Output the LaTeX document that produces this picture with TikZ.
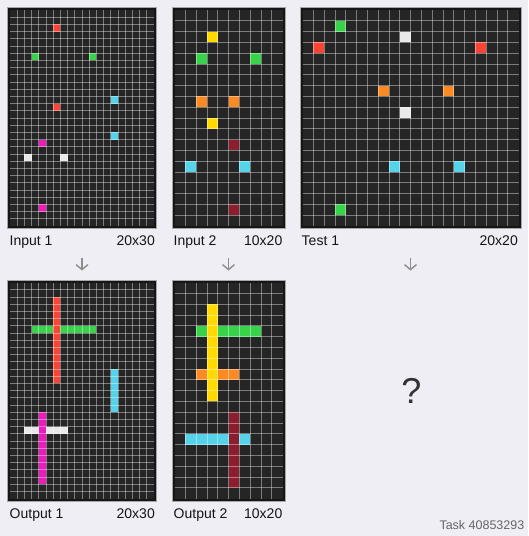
\documentclass[tikz,border=0pt]{standalone}
\usepackage{fontspec}
\setmainfont{Liberation Sans}
\usetikzlibrary{arrows.meta}
\definecolor{pagebg}{HTML}{EEEEF4}
\definecolor{cellbg}{HTML}{252525}
\definecolor{framec}{HTML}{161616}
\definecolor{cred}{HTML}{FA4536}
\definecolor{cgreen}{HTML}{38D34B}
\definecolor{ccyan}{HTML}{55D3EA}
\definecolor{cmag}{HTML}{EC1BBC}
\definecolor{cwhite}{HTML}{E8E8E8}
\definecolor{corange}{HTML}{FC8A22}
\definecolor{cyellow}{HTML}{FFD900}
\definecolor{cmaroon}{HTML}{8C1D2D}
\definecolor{arrowc}{HTML}{8E8E8E}
\definecolor{textc}{HTML}{151515}
\definecolor{taskc}{HTML}{666666}
\tikzset{
  gridat/.style n args={3}{shift={(#1pt,-#2pt)}, x=#3pt, y=-#3pt},
  gridline/.style={white, opacity=0.4, line width=0.8pt},
  framebox/.style={draw=framec, line width=2.7pt},
  frameedge/.style={draw=gray!70, line width=0.5pt},
  lbl/.style={font=\fontsize{14}{16}\selectfont, text=textc, inner sep=0pt},
  downarrow/.style={draw=arrowc, line width=1.4pt, -{Straight Barb[length=5pt,width=12pt]}},
}
\newcommand{\cellat}[3]{\fill[#3] (#1,#2) rectangle ++(1,1);}
\newcommand{\gridlines}[2]{%
  \foreach \i in {1,...,\numexpr#1-1\relax} \draw[gridline] (\i,0) -- (\i,#2);
  \foreach \j in {1,...,\numexpr#2-1\relax} \draw[gridline] (0,\j) -- (#1,\j);
}
\newcommand{\panelframe}[4]{% x0 y0 x1 y1 (inner, px)
  \draw[framebox] (#1-1.35,#2-1.35) rectangle (#3+1.35,#4+1.35);
  \draw[frameedge] (#1-2.7,#2-2.7) rectangle (#3+2.7,#4+2.7);
}
\begin{document}
\begin{tikzpicture}[x=1pt,y=-1pt]
\fill[pagebg] (0,0) rectangle (528,536);
\useasboundingbox (0,0) rectangle (528,536);

% ---------- Input 1 ----------
\begin{scope}[gridat={10}{10}{7.2}]
  \fill[cellbg] (0,0) rectangle (20,30);
  \cellat{6}{2}{cred}
  \cellat{3}{6}{cgreen}
  \cellat{11}{6}{cgreen}
  \cellat{14}{12}{ccyan}
  \cellat{6}{13}{cred}
  \cellat{14}{17}{ccyan}
  \cellat{4}{18}{cmag}
  \cellat{2}{20}{cwhite}
  \cellat{7}{20}{cwhite}
  \cellat{4}{27}{cmag}
  \gridlines{20}{30}
\end{scope}
\panelframe{10}{10}{154}{226}

% ---------- Input 2 ----------
\begin{scope}[gridat={174.5}{10}{10.8}]
  \fill[cellbg] (0,0) rectangle (10,20);
  \cellat{3}{2}{cyellow}
  \cellat{2}{4}{cgreen}
  \cellat{7}{4}{cgreen}
  \cellat{2}{8}{corange}
  \cellat{5}{8}{corange}
  \cellat{3}{10}{cyellow}
  \cellat{5}{12}{cmaroon}
  \cellat{1}{14}{ccyan}
  \cellat{6}{14}{ccyan}
  \cellat{5}{18}{cmaroon}
  \gridlines{10}{20}
\end{scope}
\panelframe{174.5}{10}{282.5}{226}

% ---------- Test 1 ----------
\begin{scope}[gridat={302.5}{10}{10.8}]
  \fill[cellbg] (0,0) rectangle (20,20);
  \cellat{3}{1}{cgreen}
  \cellat{9}{2}{cwhite}
  \cellat{1}{3}{cred}
  \cellat{16}{3}{cred}
  \cellat{7}{7}{corange}
  \cellat{13}{7}{corange}
  \cellat{9}{9}{cwhite}
  \cellat{8}{14}{ccyan}
  \cellat{14}{14}{ccyan}
  \cellat{3}{18}{cgreen}
  \gridlines{20}{20}
\end{scope}
\panelframe{302.5}{10}{518.5}{226}

% ---------- Output 1 ----------
\begin{scope}[gridat={10}{282.5}{7.2}]
  \fill[cellbg] (0,0) rectangle (20,30);
  \fill[cgreen] (3,6) rectangle (12,7);
  \fill[cred] (6,2) rectangle (7,14);
  \fill[ccyan] (14,12) rectangle (15,18);
  \fill[cwhite] (2,20) rectangle (8,21);
  \fill[cmag] (4,18) rectangle (5,28);
  \gridlines{20}{30}
\end{scope}
\panelframe{10}{282.5}{154}{498.5}

% ---------- Output 2 ----------
\begin{scope}[gridat={174.5}{282.5}{10.8}]
  \fill[cellbg] (0,0) rectangle (10,20);
  \fill[cgreen] (2,4) rectangle (8,5);
  \fill[corange] (2,8) rectangle (6,9);
  \fill[cyellow] (3,2) rectangle (4,11);
  \fill[ccyan] (1,14) rectangle (7,15);
  \fill[cmaroon] (5,12) rectangle (6,19);
  \gridlines{10}{20}
\end{scope}
\panelframe{174.5}{282.5}{282.5}{498.5}

% ---------- Labels ----------
\node[lbl, anchor=base west] (lin1) at (9.5,245.5) {Input 1};
\node[lbl, anchor=base east] (sin1) at (155,245.5) {20x30};
\node[lbl, anchor=base west] (lin2) at (173.5,245.5) {Input 2};
\node[lbl, anchor=base east] (sin2) at (282.5,245.5) {10x20};
\node[lbl, anchor=base west] (lt1) at (301.5,245.5) {Test 1};
\node[lbl, anchor=base east] (st1) at (518,245.5) {20x20};
\node[lbl, anchor=base west] (lout1) at (9.5,518) {Output 1};
\node[lbl, anchor=base east] (sout1) at (155,518) {20x30};
\node[lbl, anchor=base west] (lout2) at (173.5,518) {Output 2};
\node[lbl, anchor=base east] (sout2) at (282.5,518) {10x20};

% ---------- Arrows ----------
\coordinate (a1s) at (82,257.5);   \coordinate (a1e) at (82,270.5);
\coordinate (a2s) at (228.5,257.5); \coordinate (a2e) at (228.5,270.5);
\coordinate (a3s) at (410.5,257.5); \coordinate (a3e) at (410.5,270.5);
\draw[downarrow] (a1s) -- (a1e);
\draw[downarrow] (a2s) -- (a2e);
\draw[downarrow] (a3s) -- (a3e);

% ---------- Question mark & task id ----------
\node[font=\fontsize{36}{40}\selectfont, text=black!80, inner sep=0pt] (qm) at (411.5,391) {?};
\node[font=\fontsize{12.5}{14}\selectfont, text=taskc, inner sep=0pt, anchor=base east] (task) at (524.5,529.5) {Task 40853293};
\end{tikzpicture}
\end{document}
